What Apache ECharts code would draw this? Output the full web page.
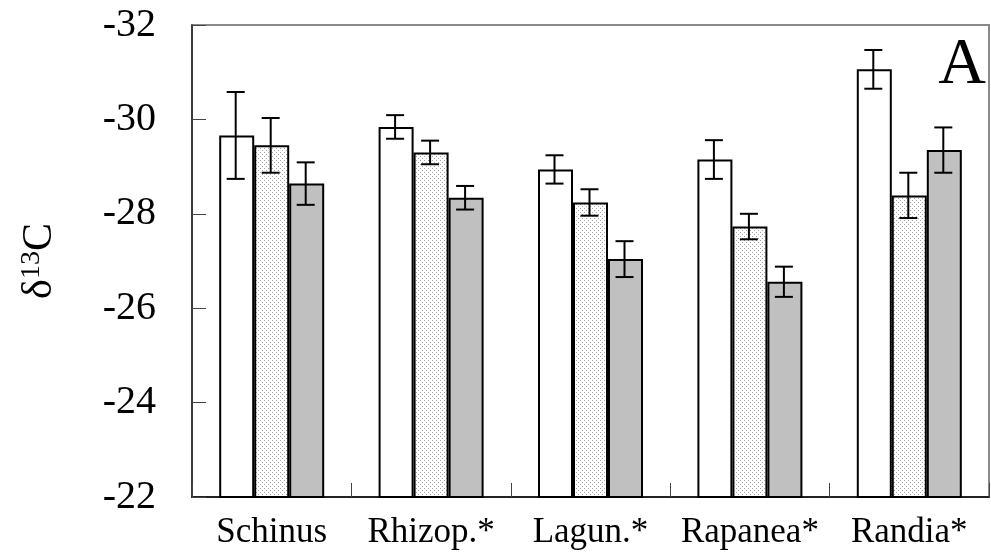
<!DOCTYPE html>
<html>
<head>
<meta charset="utf-8">
<script src="https://cdn.jsdelivr.net/npm/echarts@6/dist/echarts.min.js"></script>
<style>
html,body{margin:0;padding:0;background:#fff;}
#chart{width:991px;height:556px;}
</style>
</head>
<body>
<div id="chart"></div>
<script>
// ---- data ----
const categories = ['Schinus', 'Rhizop.*', 'Lagun.*', 'Rapanea*', 'Randia*'];
const meanWhite  = [-29.66, -29.84, -28.94, -29.15, -31.06];
const errWhite   = [0.92, 0.25, 0.30, 0.41, 0.41];
const meanDotted = [-29.45, -29.30, -28.24, -27.73, -28.39];
const errDotted  = [0.58, 0.25, 0.28, 0.27, 0.48];
const meanGray   = [-28.64, -28.34, -27.04, -26.56, -29.35];
const errGray    = [0.45, 0.25, 0.38, 0.32, 0.48];
const yMin = -32, yMax = -22, yStep = 2;

// ---- styles ----
const FONT = '"Liberation Serif", "Times New Roman", serif';
const BAR_W = 35;

function makeDots() {
  const c = document.createElement('canvas');
  c.width = 4; c.height = 4;
  const g = c.getContext('2d');
  g.fillStyle = '#ffffff'; g.fillRect(0, 0, 4, 4);
  g.fillStyle = '#a8a8a8';
  g.fillRect(0, 0, 1, 1);
  g.fillRect(2, 2, 1, 1);
  return c;
}
const dotPattern = { image: makeDots(), repeat: 'repeat' };

const groups = [
  { mean: meanWhite,  err: errWhite,  fill: '#ffffff' },
  { mean: meanDotted, err: errDotted, fill: dotPattern },
  { mean: meanGray,   err: errGray,   fill: '#c0c0c0' }
];

const series = [];
groups.forEach(function (gp, k) {
  series.push({
    type: 'bar',
    data: gp.mean,
    barWidth: BAR_W,
    barGap: '0%',
    clip: true,
    silent: true,
    itemStyle: { color: gp.fill, borderColor: '#000', borderWidth: 2 },
    z: 2
  });
});
groups.forEach(function (gp, k) {
  const errData = gp.mean.map(function (m, i) { return [i, m - gp.err[i], m + gp.err[i]]; });
  series.push({
    type: 'custom',
    silent: true,
    z: 5,
    data: errData,
    encode: { x: 0, y: [1, 2] },
    renderItem: function (params, api) {
      const i = api.value(0);
      const lo = api.coord([i, api.value(1)]);
      const hi = api.coord([i, api.value(2)]);
      const x = lo[0] + (k - 1) * BAR_W - 1;
      const cap = 9;
      const st = { stroke: '#000', lineWidth: 2 };
      return {
        type: 'group',
        children: [
          { type: 'line', shape: { x1: x, y1: lo[1], x2: x, y2: hi[1] }, style: st },
          { type: 'line', shape: { x1: x - cap, y1: lo[1], x2: x + cap, y2: lo[1] }, style: st },
          { type: 'line', shape: { x1: x - cap, y1: hi[1], x2: x + cap, y2: hi[1] }, style: st }
        ]
      };
    }
  });
});

const chart = echarts.init(document.getElementById('chart'), null, { renderer: 'canvas' });
chart.setOption({
  animation: false,
  backgroundColor: '#ffffff',
  grid: {
    left: 192, right: 2, top: 25, bottom: 59,
    show: true, borderColor: '#8a8a8a', borderWidth: 2, backgroundColor: 'transparent'
  },
  xAxis: {
    type: 'category',
    data: categories,
    boundaryGap: true,
    axisLine: { show: true, lineStyle: { color: '#222', width: 2 } },
    axisTick: { show: true, inside: true, length: 14, lineStyle: { color: '#444', width: 1 } },
    axisLabel: { color: '#000', fontFamily: FONT, fontSize: 35, margin: 18, interval: 0, hideOverlap: false },
    splitLine: { show: false }
  },
  yAxis: {
    type: 'value',
    inverse: true,
    min: yMin, max: yMax, interval: yStep,
    axisLine: { show: true, lineStyle: { color: '#222', width: 1.5 } },
    axisTick: { show: true, inside: true, length: 14, lineStyle: { color: '#444', width: 1 } },
    axisLabel: { color: '#000', fontFamily: FONT, fontSize: 40, margin: 36, padding: [8, 0, 0, 0] },
    splitLine: { show: false },
    name: '{d|δ}{s|13}{d|C}',
    nameLocation: 'middle',
    nameRotate: 90,
    nameGap: 130,
    nameTextStyle: {
      color: '#000', fontFamily: FONT, fontSize: 40,
      rich: {
        d: { fontFamily: FONT, fontSize: 42, color: '#000', lineHeight: 44 },
        s: { fontFamily: FONT, fontSize: 28, color: '#000', verticalAlign: 'top', lineHeight: 44 }
      }
    }
  },
  graphic: [{
    type: 'text',
    x: 962, y: 66,
    z: 10,
    style: { text: 'A', font: '66px ' + FONT, fill: '#000', align: 'center', verticalAlign: 'middle' }
  }],
  series: series
});
</script>
</body>
</html>
